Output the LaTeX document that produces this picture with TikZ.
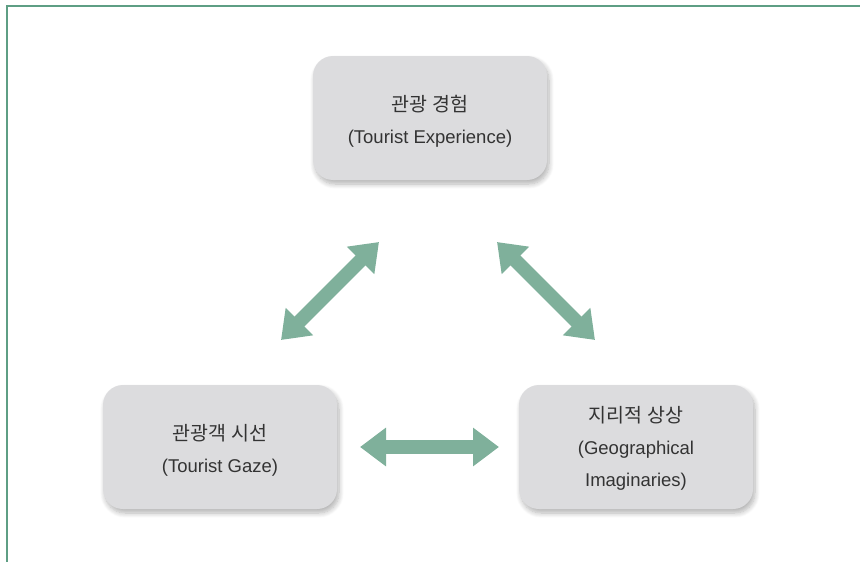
\documentclass[tikz,border=0pt]{standalone}
\usepackage{fontspec}
\setmainfont{Liberation Sans}
\newfontfamily\kr{Noto Sans CJK KR}
\usetikzlibrary{arrows.meta,shadows.blur}
\definecolor{framegreen}{HTML}{5E9E84}
\definecolor{arrowgreen}{HTML}{7FB09B}
\definecolor{boxgray}{HTML}{DCDCDE}
\definecolor{txt}{HTML}{333333}
\newcommand{\krtext}[1]{{\kr\fontsize{19.5}{32}\selectfont #1}}
\tikzset{
  concept/.style={rectangle, rounded corners=20pt, fill=boxgray, draw=none,
    minimum width=234pt, minimum height=124pt,
    blur shadow={shadow xshift=2pt, shadow yshift=-4pt, shadow blur steps=8, shadow opacity=30, shadow blur radius=5pt}},
  boxtext/.style={align=center, text=txt, inner sep=0pt,
    font=\fontsize{18.5}{32}\selectfont},
  link/.style={arrowgreen, line width=14pt,
    {Triangle[width=37pt,length=26pt]}-{Triangle[width=37pt,length=26pt]}},
  frameline/.style={framegreen, line width=2pt}
}
\begin{document}
\begin{tikzpicture}[x=1pt,y=-1pt]
\useasboundingbox (0,0) rectangle (860,562);
\draw[frameline] (7,562) -- (7,6) -- (860,6);
\node[concept] (exp) at (430,118) {};
\node[concept] (gaze) at (220,447) {};
\node[concept] (imag) at (636,447) {};
\node[boxtext] (expt) at ([yshift=-3pt]exp.center) {\krtext{관광 경험}\\(Tourist Experience)};
\node[boxtext] (gazet) at ([yshift=-3pt]gaze.center) {\krtext{관광객 시선}\\(Tourist Gaze)};
\node[boxtext] (imagt) at ([yshift=-1pt]imag.center) {\krtext{지리적 상상}\\(Geographical\\Imaginaries)};
\coordinate (a1) at (281,340);
\coordinate (a2) at (379,242);
\coordinate (b1) at (497,242);
\coordinate (b2) at (595,340);
\coordinate (c1) at (360,447);
\coordinate (c2) at (499,447);
\draw[link] (a1) -- (a2);
\draw[link] (b1) -- (b2);
\draw[link] (c1) -- (c2);
\end{tikzpicture}
\end{document}
